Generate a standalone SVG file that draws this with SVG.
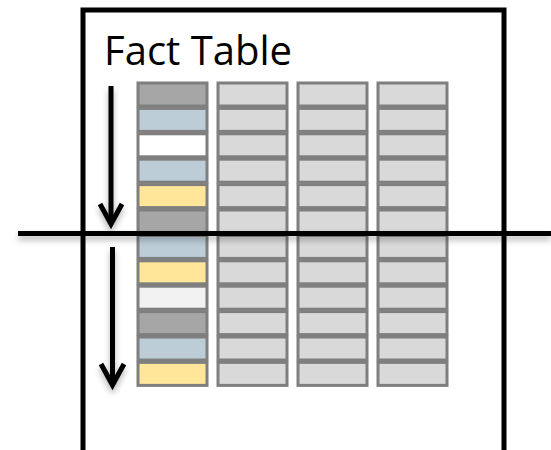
<svg xmlns="http://www.w3.org/2000/svg" width="551" height="450" viewBox="0 0 551 450">
  <defs>
    <style>
      .cell { stroke: #7f7f7f; stroke-width: 3; }
      .g { fill: #d9d9d9; }
      .dk { fill: #a6a6a6; }
      .bl { fill: #bccdd8; }
      .wh { fill: #ffffff; }
      .yl { fill: #ffe699; }
      .lt { fill: #f2f2f2; }
      .ink { stroke: #000; stroke-width: 5; fill: none; }
      .title { font-family: "Open Sans", "Liberation Sans", sans-serif; font-size: 40px; fill: #000; }
    </style>
    <filter id="shadow" x="-20%" y="-20%" width="140%" height="160%">
      <feGaussianBlur in="SourceAlpha" stdDeviation="3"/>
      <feOffset dx="0" dy="4" result="b"/>
      <feComponentTransfer><feFuncA type="linear" slope="0.3"/></feComponentTransfer>
      <feMerge><feMergeNode/><feMergeNode in="SourceGraphic"/></feMerge>
    </filter>
  </defs>
  <rect width="551" height="450" fill="#fff"/>

  <!-- outer frame -->
  <g id="frame">
    <rect x="83" y="10" width="421" height="460" fill="none" stroke="#000" stroke-width="5"/>
  </g>

  <g id="title">
    <text class="title" x="104" y="65" textLength="188" lengthAdjust="spacingAndGlyphs">Fact Table</text>
  </g>

  <!-- key column -->
  <g id="col1">
    <rect class="cell dk" x="138" y="83" width="69" height="23"/>
    <rect class="cell bl" x="138" y="108.4" width="69" height="23"/>
    <rect class="cell wh" x="138" y="133.8" width="69" height="23"/>
    <rect class="cell bl" x="138" y="159.2" width="69" height="23"/>
    <rect class="cell yl" x="138" y="184.6" width="69" height="23"/>
    <rect class="cell dk" x="138" y="210" width="69" height="23"/>
    <rect class="cell bl" x="138" y="235.4" width="69" height="23"/>
    <rect class="cell yl" x="138" y="260.8" width="69" height="23"/>
    <rect class="cell lt" x="138" y="286.2" width="69" height="23"/>
    <rect class="cell dk" x="138" y="311.6" width="69" height="23"/>
    <rect class="cell bl" x="138" y="337" width="69" height="23"/>
    <rect class="cell yl" x="138" y="362.4" width="69" height="23"/>
  </g>

  <!-- value columns -->
  <g id="col2">
    <rect class="cell g" x="218" y="83" width="69" height="23"/>
    <rect class="cell g" x="218" y="108.4" width="69" height="23"/>
    <rect class="cell g" x="218" y="133.8" width="69" height="23"/>
    <rect class="cell g" x="218" y="159.2" width="69" height="23"/>
    <rect class="cell g" x="218" y="184.6" width="69" height="23"/>
    <rect class="cell g" x="218" y="210" width="69" height="23"/>
    <rect class="cell g" x="218" y="235.4" width="69" height="23"/>
    <rect class="cell g" x="218" y="260.8" width="69" height="23"/>
    <rect class="cell g" x="218" y="286.2" width="69" height="23"/>
    <rect class="cell g" x="218" y="311.6" width="69" height="23"/>
    <rect class="cell g" x="218" y="337" width="69" height="23"/>
    <rect class="cell g" x="218" y="362.4" width="69" height="23"/>
  </g>
  <g id="col3">
    <rect class="cell g" x="298" y="83" width="69" height="23"/>
    <rect class="cell g" x="298" y="108.4" width="69" height="23"/>
    <rect class="cell g" x="298" y="133.8" width="69" height="23"/>
    <rect class="cell g" x="298" y="159.2" width="69" height="23"/>
    <rect class="cell g" x="298" y="184.6" width="69" height="23"/>
    <rect class="cell g" x="298" y="210" width="69" height="23"/>
    <rect class="cell g" x="298" y="235.4" width="69" height="23"/>
    <rect class="cell g" x="298" y="260.8" width="69" height="23"/>
    <rect class="cell g" x="298" y="286.2" width="69" height="23"/>
    <rect class="cell g" x="298" y="311.6" width="69" height="23"/>
    <rect class="cell g" x="298" y="337" width="69" height="23"/>
    <rect class="cell g" x="298" y="362.4" width="69" height="23"/>
  </g>
  <g id="col4">
    <rect class="cell g" x="378" y="83" width="69" height="23"/>
    <rect class="cell g" x="378" y="108.4" width="69" height="23"/>
    <rect class="cell g" x="378" y="133.8" width="69" height="23"/>
    <rect class="cell g" x="378" y="159.2" width="69" height="23"/>
    <rect class="cell g" x="378" y="184.6" width="69" height="23"/>
    <rect class="cell g" x="378" y="210" width="69" height="23"/>
    <rect class="cell g" x="378" y="235.4" width="69" height="23"/>
    <rect class="cell g" x="378" y="260.8" width="69" height="23"/>
    <rect class="cell g" x="378" y="286.2" width="69" height="23"/>
    <rect class="cell g" x="378" y="311.6" width="69" height="23"/>
    <rect class="cell g" x="378" y="337" width="69" height="23"/>
    <rect class="cell g" x="378" y="362.4" width="69" height="23"/>
  </g>

  <!-- split line and scan arrows -->
  <g id="connectors" filter="url(#shadow)">
    <line class="ink" x1="18" y1="233.5" x2="551" y2="233.5"/>
    <line class="ink" x1="111" y1="86" x2="111" y2="222"/>
    <polyline class="ink" points="100,204 111,224 122,204"/>
    <line class="ink" x1="112.5" y1="247" x2="112.5" y2="383"/>
    <polyline class="ink" points="101,364 112.5,385 124,364"/>
  </g>
</svg>
